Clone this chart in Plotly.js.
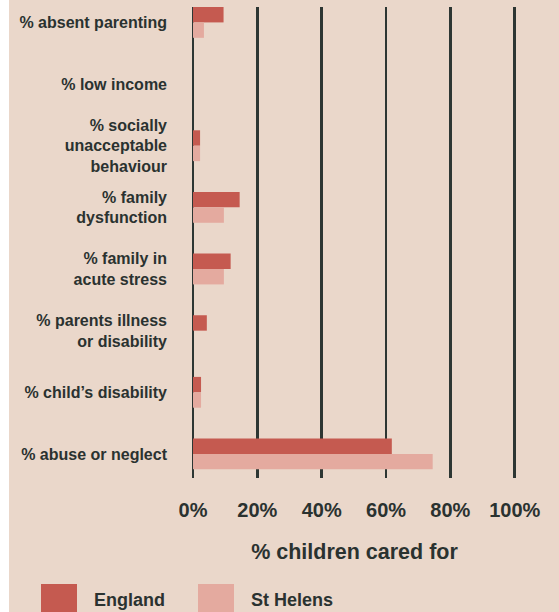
<!DOCTYPE html>
<html>
<head>
<meta charset="utf-8">
<script src="https://cdn.plot.ly/plotly-3.0.1.min.js"></script>
<style>
  html, body { margin: 0; padding: 0; background: #ffffff; overflow: hidden; }
  #chart { position: absolute; left: 9px; top: 0; width: 550px; height: 612px; }
</style>
</head>
<body>
<div id="chart"></div>
<script>
// ---- data ----
const categories = [
  "% absent parenting",
  "% low income",
  "% socially<br>unacceptable<br>behaviour",
  "% family<br>dysfunction",
  "% family in<br>acute stress",
  "% parents illness<br>or disability",
  "% child\u2019s disability",
  "% abuse or neglect"
];
const seriesNames = ["England", "St Helens"];
const england   = [9.5, 0, 2.2, 14.5, 11.7, 4.3, 2.5, 61.8];
const stHelens  = [3.4, 0, 2.2, 9.6, 9.6, 0, 2.5, 74.5];
const xTickVals = [0, 20, 40, 60, 80, 100];
const xTickText = ["0%", "20%", "40%", "60%", "80%", "100%"];
const xTitle = "% children cared for";

// ---- style ----
const colors = ["#c55a50", "#e4aa9f"];
const bg = "#ead7ca";
const ink = "#2a3230";
const FONT = "Liberation Sans, Arial, sans-serif";

const W = 550, H = 612;
const M = { l: 184, r: 43, t: 7, b: 134 };
const plotW = W - M.l - M.r, plotH = H - M.t - M.b;
const px2x = p => (p - M.l) / plotW;          // div pixel -> paper x
const py2y = p => (H - M.b - p) / plotH;      // div pixel -> paper y

const traces = [england, stHelens].map((vals, i) => ({
  type: "bar",
  orientation: "h",
  name: seriesNames[i],
  y: categories,
  x: vals,
  marker: { color: colors[i], line: { width: 0 } },
  hoverinfo: "x+y",
  showlegend: false
}));

// custom legend (large square swatches)
const legendX = [32, 189];
const legendTextX = [83, 240];
const shapes = seriesNames.map((n, i) => ({
  type: "rect", xref: "paper", yref: "paper", layer: "above",
  x0: px2x(legendX[i]), x1: px2x(legendX[i] + 36),
  y0: py2y(620), y1: py2y(584),
  fillcolor: colors[i], line: { width: 0 }
}));
const annotations = seriesNames.map((n, i) => ({
  text: n, xref: "paper", yref: "paper", showarrow: false,
  x: px2x(legendTextX[i]), xanchor: "left",
  y: py2y(600), yanchor: "middle",
  font: { family: FONT, size: 18, color: ink, weight: "bold" }
}));

const layout = {
  width: W, height: H,
  margin: M,
  paper_bgcolor: bg,
  plot_bgcolor: bg,
  barmode: "group",
  bargap: 0.5,
  bargroupgap: 0,
  showlegend: false,
  xaxis: {
    range: [0, 100.4],
    tickvals: xTickVals,
    ticktext: xTickText,
    showgrid: true,
    gridcolor: "#2d3633",
    gridwidth: 2.5,
    zeroline: true,
    zerolinecolor: "#2d3633",
    zerolinewidth: 2.5,
    showline: false,
    ticks: "",
    ticklabelstandoff: 18,
    tickfont: { family: FONT, size: 20, color: ink, weight: "bold" },
    title: {
      text: xTitle,
      standoff: 23,
      font: { family: FONT, size: 21.5, color: ink, weight: "bold" }
    },
    fixedrange: true
  },
  yaxis: {
    type: "category",
    range: [7.39, -0.25],
    showgrid: false,
    zeroline: false,
    showline: false,
    ticks: "",
    ticklabelstandoff: 25,
    tickfont: { family: FONT, size: 16, color: ink, weight: "bold" },
    fixedrange: true
  },
  shapes: shapes,
  annotations: annotations
};

Plotly.newPlot("chart", traces, layout, { displayModeBar: false, staticPlot: true });
</script>
</body>
</html>
